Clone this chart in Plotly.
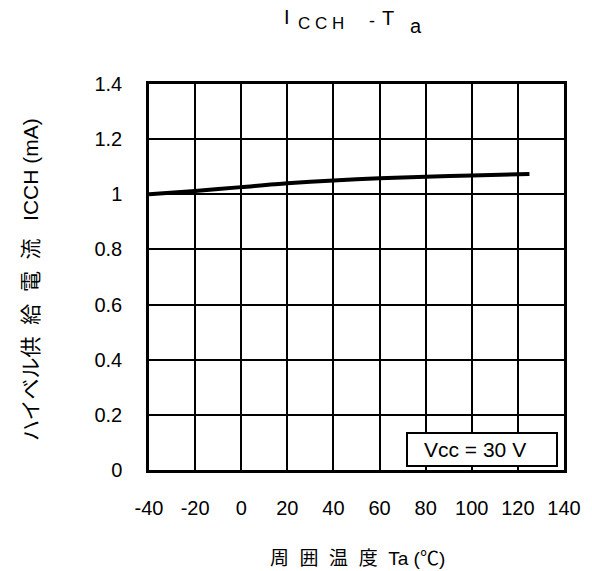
import plotly.graph_objects as go

# Supply current vs ambient temperature
temp_c = [-40, -20, 0, 20, 40, 60, 80, 100, 125]
icch_ma = [1.000, 1.012, 1.026, 1.040, 1.050, 1.058, 1.064, 1.068, 1.074]

x_ticks = [-40, -20, 0, 20, 40, 60, 80, 100, 120, 140]
x_tick_text = ["-40", "-20", "0", "20", "40", "60", "80", "100", "120", "140"]
y_ticks = [0, 0.2, 0.4, 0.6, 0.8, 1.0, 1.2, 1.4]
y_tick_text = ["0", "0.2", "0.4", "0.6", "0.8", "1", "1.2", "1.4"]

W, H = 592, 571
L, R, T, B = 149, 28, 84, 101
pw, ph = W - L - R, H - T - B

LATIN = "Liberation Sans, Arial, Noto Sans CJK JP, sans-serif"
SP = "\u00a0"


def px_to_paper(px, py):
    return (px - L) / pw, (H - B - py) / ph


def label(px, py, text, size, angle=0):
    x, y = px_to_paper(px, py)
    return dict(x=x, y=y, xref="paper", yref="paper", showarrow=False,
                xanchor="center", yanchor="middle", textangle=angle,
                text=text, font=dict(family=LATIN, size=size, color="black"))


fig = go.Figure()
fig.add_trace(go.Scatter(
    x=temp_c, y=icch_ma, mode="lines",
    line=dict(color="black", width=4, shape="spline", smoothing=0.8),
    showlegend=False, hoverinfo="skip",
))

axis_common = dict(
    showgrid=True, gridcolor="black", gridwidth=2,
    showline=True, linecolor="black", linewidth=2.5, mirror=True,
    zeroline=False, ticks="",
    tickfont=dict(family=LATIN, size=20, color="black"),
)
fig.update_xaxes(range=[-40, 140], tickvals=x_ticks, ticktext=x_tick_text,
                 ticklabelstandoff=18, **axis_common)
fig.update_yaxes(range=[0, 1.4], tickvals=y_ticks, ticktext=y_tick_text,
                 ticklabelstandoff=20, **axis_common)

annotations = [
    # chart heading, built from pieces so the letters sit at staggered heights
    label(286.5, 17, "I", 20),
    label(321, 24, "C" + SP + "C" + SP + "H", 17),
    label(372, 21, "-", 18),
    label(387.5, 18, "T", 20),
    label(415.5, 26, "a", 20),
    # axis titles
    label(30, 280, "ハイベル供" + SP * 2 + "給" + SP * 2 + "電" + SP * 2 + "流"
          + SP * 3 + "ICCH" + SP + "(mA)", 21, angle=-90),
    label(357, 558, "周" + SP * 2 + "囲" + SP * 2 + "温" + SP * 2 + "度"
          + SP * 2 + "Ta" + SP + "(℃)", 19),
    # operating condition
    label(475, 449.5, "Vcc = 30 V", 21),
]

bx0, by0 = px_to_paper(407, 466)
bx1, by1 = px_to_paper(557, 433)
fig.add_shape(type="rect", xref="paper", yref="paper",
              x0=bx0, y0=by0, x1=bx1, y1=by1,
              line=dict(color="black", width=2), fillcolor="white", layer="above")

fig.update_layout(
    width=W, height=H,
    margin=dict(l=L, r=R, t=T, b=B),
    paper_bgcolor="white", plot_bgcolor="white",
    annotations=annotations,
)

fig.write_html("out.html")
